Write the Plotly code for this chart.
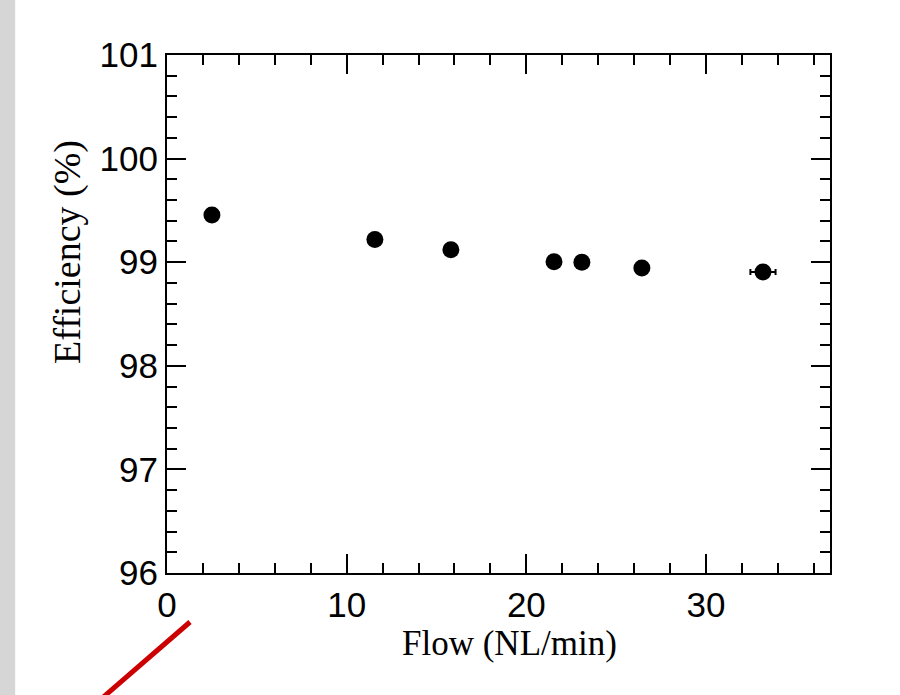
import plotly.graph_objects as go

flow = [2.5, 11.57, 15.8, 21.54, 23.09, 26.43, 33.17]
efficiency = [99.455, 99.22, 99.12, 99.005, 99.0, 98.944, 98.905]
flow_err = [0, 0, 0, 0, 0, 0, 0.7]

x_title = "Flow (NL/min)"
y_title = "Efficiency (%)"

fig = go.Figure()
fig.add_trace(go.Scatter(
    x=flow, y=efficiency, mode="markers",
    marker=dict(size=17, color="black"),
    error_x=dict(type="data", array=flow_err, visible=True, color="black", thickness=2, width=3),
    showlegend=False,
))

tick_font = dict(family="Liberation Sans, Arial", size=35, color="black")
serif = "Liberation Serif, Times New Roman, serif"

common = dict(
    showline=True, linecolor="black", linewidth=2, mirror="allticks",
    ticks="inside", ticklen=19, tickwidth=2, tickcolor="black",
    showgrid=False, zeroline=False, tickfont=tick_font,
)

fig.update_xaxes(range=[0, 36.9], dtick=10, tick0=0,
                 minor=dict(dtick=2, ticks="inside", ticklen=10, tickwidth=2, tickcolor="black"),
                 **common)
fig.update_yaxes(range=[96, 101], dtick=1, tick0=96,
                 minor=dict(dtick=0.2, ticks="inside", ticklen=10, tickwidth=2, tickcolor="black"),
                 **common)

fig.update_layout(
    width=900, height=695,
    margin=dict(l=167, r=70, t=55, b=122),
    paper_bgcolor="white", plot_bgcolor="white",
    shapes=[
        dict(type="rect", xref="paper", yref="paper", x0=-0.26, x1=-0.229, y0=-0.25, y1=1.12,
             fillcolor="#d6d6d6", line=dict(width=0), layer="below"),
        dict(type="line", xref="paper", yref="paper", x0=0.0347, y0=-0.0946, x1=-0.101, y1=-0.245,
             line=dict(color="#cc0000", width=5)),
    ],
    annotations=[
        dict(text=x_title, xref="paper", yref="paper", x=0.5173, y=-0.137,
             xanchor="center", yanchor="middle", showarrow=False,
             font=dict(family=serif, size=35, color="black")),
        dict(text=y_title, xref="paper", yref="paper", x=-0.1493, y=0.6197,
             xanchor="center", yanchor="middle", showarrow=False, textangle=-90,
             font=dict(family=serif, size=38, color="black")),
    ],
)

fig.write_html("out.html")
